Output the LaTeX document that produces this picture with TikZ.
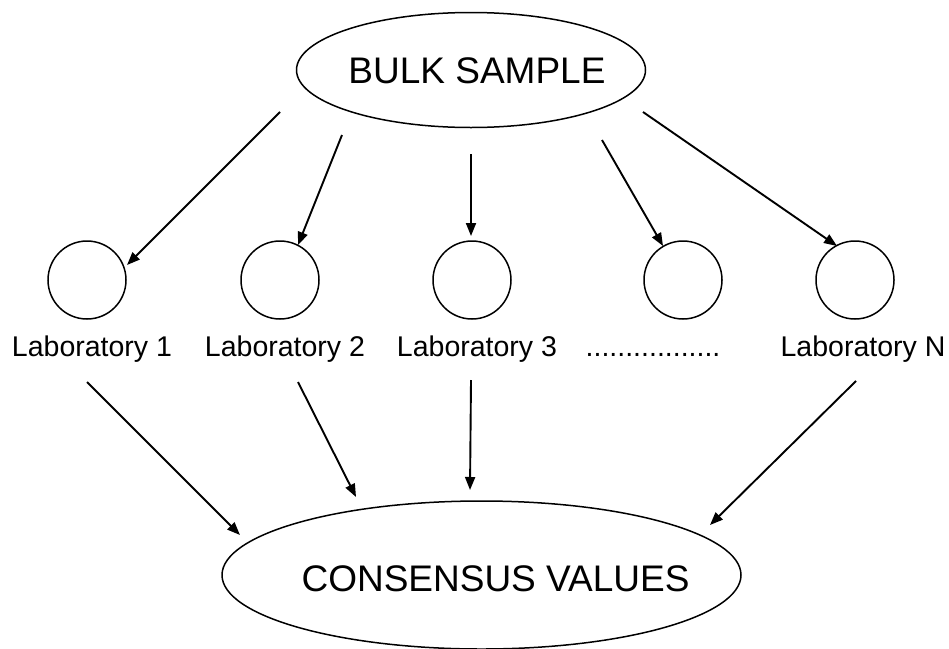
\documentclass[tikz,border=0pt]{standalone}
\usepackage{fontspec}
\setmainfont{Liberation Sans}
\usetikzlibrary{shapes.geometric,arrows.meta}
\begin{document}
\begin{tikzpicture}[x=1pt,y=-1pt,
  shape line/.style={draw=black,line width=1.5pt},
  lab/.style={circle,shape line,minimum size=78pt,inner sep=0pt},
  biglabel/.style={font=\fontsize{37}{40}\selectfont,anchor=base,inner sep=0pt},
  smalllabel/.style={font=\fontsize{28.5}{32}\selectfont,anchor=base,inner sep=0pt},
  conn/.style={line width=1.9pt,-{Triangle[length=13pt,width=10pt]}}]
\useasboundingbox (0,0) rectangle (949,648);
% top ellipse
\node[ellipse,shape line,minimum width=349pt,minimum height=115pt,inner sep=0pt] (bulk) at (471,70) {};
\node[biglabel] (bulktext) at (477,83) {BULK SAMPLE};
% laboratories
\node[lab] (l1) at (87,280) {};
\node[lab] (l2) at (280,280) {};
\node[lab] (l3) at (472,280) {};
\node[lab] (l4) at (683,280) {};
\node[lab] (l5) at (855,280) {};
\node[smalllabel] (t1) at (92,356) {Laboratory 1};
\node[smalllabel] (t2) at (285,356) {Laboratory 2};
\node[smalllabel] (t3) at (477,356) {Laboratory 3};
\node[smalllabel] (t4) at (653,356) {.................};
\node[smalllabel] (t5) at (863,356) {Laboratory N};
% bottom ellipse
\node[ellipse,shape line,minimum width=519pt,minimum height=148pt,inner sep=0pt] (cons) at (481.5,575) {};
\node[biglabel] (constext) at (495.5,591) {CONSENSUS VALUES};
% connector ends
\coordinate (s1) at (280,112); \coordinate (e1) at (127,265);
\coordinate (s2) at (342,135); \coordinate (e2) at (298,245);
\coordinate (s3) at (471,154); \coordinate (e3) at (471,236);
\coordinate (s4) at (602,140); \coordinate (e4) at (663,246);
\coordinate (s5) at (643,112); \coordinate (e5) at (837,246);
\coordinate (b1) at (87,382);  \coordinate (f1) at (240,535);
\coordinate (b2) at (298,382); \coordinate (f2) at (356,497);
\coordinate (b3) at (471,380); \coordinate (f3) at (470,490);
\coordinate (b4) at (856,381); \coordinate (f4) at (710,525);
\draw[conn] (s1) -- (e1);
\draw[conn] (s2) -- (e2);
\draw[conn] (s3) -- (e3);
\draw[conn] (s4) -- (e4);
\draw[conn] (s5) -- (e5);
\draw[conn] (b1) -- (f1);
\draw[conn] (b2) -- (f2);
\draw[conn] (b3) -- (f3);
\draw[conn] (b4) -- (f4);
\end{tikzpicture}
\end{document}
